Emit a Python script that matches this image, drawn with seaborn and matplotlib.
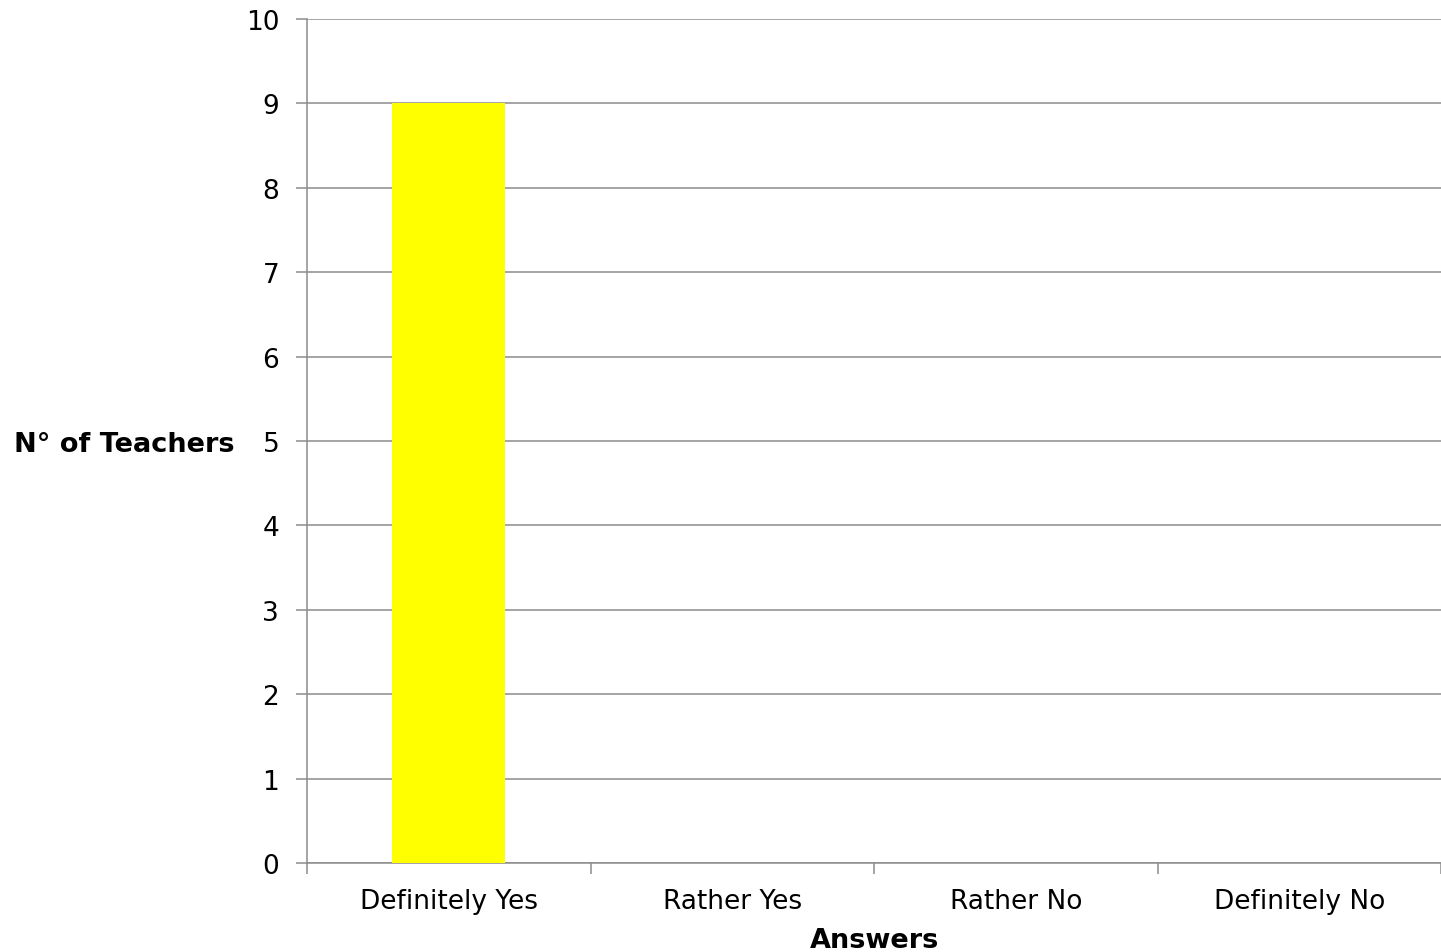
import pandas as pd
import seaborn as sns
import matplotlib.pyplot as plt
from matplotlib.ticker import FixedLocator

# data
answers = ["Definitely Yes", "Rather Yes", "Rather No", "Definitely No"]
teachers = [9, 0, 0, 0]

df = pd.DataFrame({"Answers": answers, "Teachers": teachers})

sns.set_style("white")
plt.rcParams['font.family'] = ['DejaVu Sans']
plt.rcParams['text.color'] = 'black'
plt.rcParams['xtick.color'] = 'black'
plt.rcParams['ytick.color'] = 'black'
plt.rcParams['axes.labelcolor'] = 'black'

fig = plt.figure(figsize=(14.41, 9.53), dpi=100)
ax = fig.add_axes([307 / 1441, 89 / 953, 1 - 307 / 1441, (864 - 20) / 953])

sns.barplot(data=df, x="Answers", y="Teachers", color="#ffff00", width=0.4,
            saturation=1, linewidth=0, ax=ax, zorder=3)

grey = "#8c8c8c"
ax.set_ylim(0, 10)
ax.set_xlim(-0.5, len(answers) - 0.5)
ax.set_yticks(range(0, 11))
ax.yaxis.grid(True, color=grey, linewidth=1.1, zorder=0)
ax.set_axisbelow(True)

# ticks sit between the categories on the x axis
ax.xaxis.set_minor_locator(FixedLocator([i - 0.5 for i in range(len(answers) + 1)]))
ax.tick_params(axis="x", which="major", bottom=False, length=0, pad=18, labelsize=19)
ax.tick_params(axis="x", which="minor", bottom=True, length=8, width=1.1, color=grey)
ax.tick_params(axis="y", left=True, length=8, width=1.1, color=grey, pad=12,
               labelsize=19, labelcolor="black")

for side in ["top", "right"]:
    ax.spines[side].set_visible(False)
for side in ["left", "bottom"]:
    ax.spines[side].set_color(grey)
    ax.spines[side].set_linewidth(1.1)

ax.set_xlabel("Answers", fontsize=19.5, fontweight="bold", va="center")
ax.xaxis.set_label_coords(0.5, -0.091)
ax.set_ylabel("N° of Teachers", fontsize=19.5, fontweight="bold", rotation=0,
              ha="right", va="center")
ax.yaxis.set_label_coords(-0.0635, 0.497)

fig.savefig("out.png", dpi=100)
